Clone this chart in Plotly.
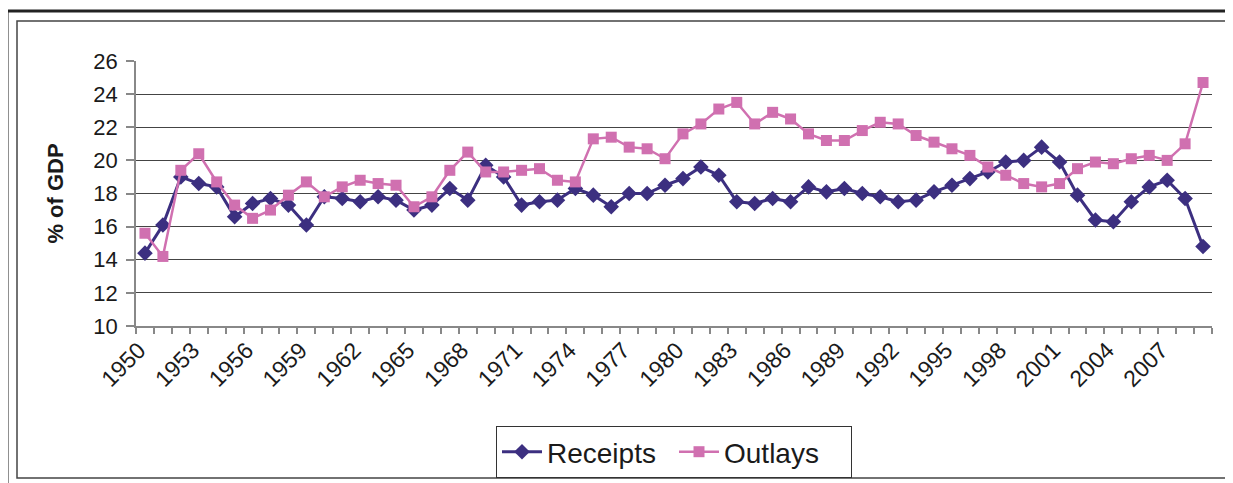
import plotly.graph_objects as go

years = list(range(1950, 2010))
receipts = [14.4, 16.1, 19.0, 18.6, 18.4, 16.6, 17.4, 17.7, 17.3, 16.1,
            17.8, 17.7, 17.5, 17.8, 17.6, 17.0, 17.3, 18.3, 17.6, 19.7,
            19.0, 17.3, 17.5, 17.6, 18.3, 17.9, 17.2, 18.0, 18.0, 18.5,
            18.9, 19.6, 19.1, 17.5, 17.4, 17.7, 17.5, 18.4, 18.1, 18.3,
            18.0, 17.8, 17.5, 17.6, 18.1, 18.5, 18.9, 19.3, 19.9, 20.0,
            20.8, 19.9, 17.9, 16.4, 16.3, 17.5, 18.4, 18.8, 17.7, 14.8]
outlays = [15.6, 14.2, 19.4, 20.4, 18.7, 17.3, 16.5, 17.0, 17.9, 18.7,
           17.8, 18.4, 18.8, 18.6, 18.5, 17.2, 17.8, 19.4, 20.5, 19.3,
           19.3, 19.4, 19.5, 18.8, 18.7, 21.3, 21.4, 20.8, 20.7, 20.1,
           21.6, 22.2, 23.1, 23.5, 22.2, 22.9, 22.5, 21.6, 21.2, 21.2,
           21.8, 22.3, 22.2, 21.5, 21.1, 20.7, 20.3, 19.6, 19.1, 18.6,
           18.4, 18.6, 19.5, 19.9, 19.8, 20.1, 20.3, 20.0, 21.0, 24.7]
tick_years = list(range(1950, 2010, 3))
y_ticks = list(range(10, 27, 2))

OFF = 8  # page body margin
W, H = 1233 - OFF, 483 - OFF
L, R, T, B = 136 - OFF, 1212 - OFF, 61 - OFF, 326 - OFF
PW, PH = R - L, B - T


def px(x):
    return (x - OFF - L) / PW


def py(y):
    return (B - (y - OFF)) / PH


fig = go.Figure()
fig.add_trace(go.Scatter(
    x=years, y=receipts, name="Receipts", mode="lines+markers",
    line=dict(color="#3C2F80", width=3),
    marker=dict(symbol="diamond", size=12, color="#3C2F80"),
))
fig.add_trace(go.Scatter(
    x=years, y=outlays, name="Outlays", mode="lines+markers",
    line=dict(color="#D070B0", width=2.5),
    marker=dict(symbol="square", size=11, color="#D070B0"),
))

font_family = "Liberation Sans, Arial, sans-serif"

fig.update_layout(
    width=W, height=H,
    margin=dict(l=L, r=W - R, t=T, b=H - B, autoexpand=False),
    paper_bgcolor="white", plot_bgcolor="white",
    font=dict(family=font_family, size=22, color="#1a1a1a"),
    showlegend=True,
    legend=dict(
        orientation="h", x=0.5, xanchor="center", y=py(426), yanchor="top",
        bordercolor="#333", borderwidth=1, font=dict(size=28),
        itemwidth=40, tracegroupgap=0, entrywidth=122, entrywidthmode="pixels",
    ),
    xaxis=dict(
        range=[1949.5, 2009.5], tickmode="array", tickvals=tick_years,
        ticktext=[str(y) for y in tick_years], tickangle=-45, ticks="",
        showgrid=False, showline=True, linecolor="#888", linewidth=1.5,
        zeroline=False, tickfont=dict(size=23), ticklabelstandoff=0,
        ticklabelshift=-6,
        minor=dict(tick0=1949.5, dtick=1, ticks="outside", ticklen=6,
                   tickcolor="#888", tickwidth=1.5, showgrid=False),
    ),
    yaxis=dict(
        range=[10, 26], tickmode="array", tickvals=y_ticks,
        ticks="outside", ticklen=8, tickcolor="#888", tickwidth=1.5,
        showline=True, linecolor="#888", linewidth=1.5,
        showgrid=True, gridcolor="#444", gridwidth=1, zeroline=False,
        tickfont=dict(size=22), ticklabelstandoff=4,
        title=dict(text="<b>% of GDP</b>", font=dict(size=22), standoff=24),
    ),
    shapes=[
        dict(type="rect", xref="paper", yref="paper",
             x0=px(7), x1=px(1260), y0=py(11), y1=py(520),
             line=dict(color="#222", width=3)),
        dict(type="rect", xref="paper", yref="paper",
             x0=px(17), x1=px(1232), y0=py(21), y1=py(478),
             line=dict(color="#444", width=1.5)),
    ],
)

fig.write_html("out.html")
